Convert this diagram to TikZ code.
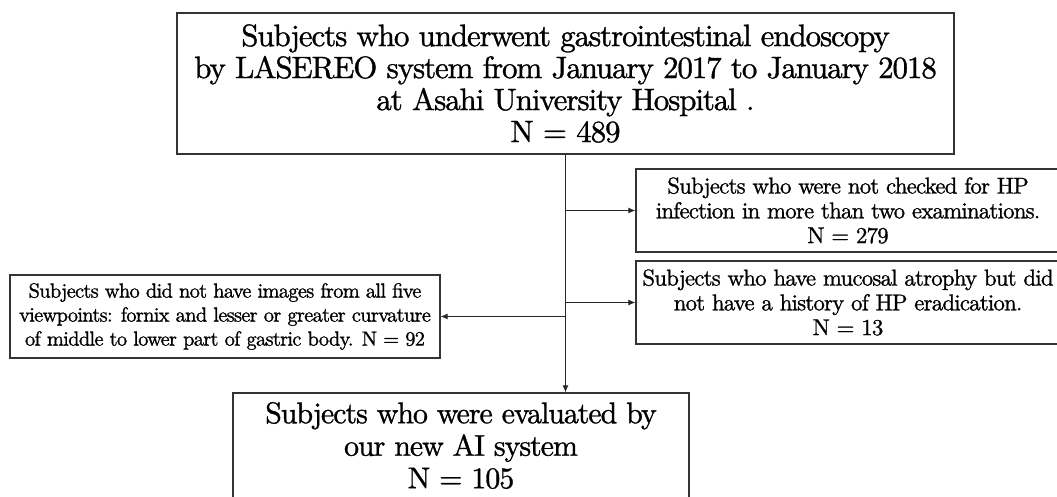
\documentclass[tikz,border=0pt]{standalone}
\usepackage{fontspec}
\setmainfont{lmroman10-regular.otf}[FakeBold=1.0, LetterSpace=-3.6]
\usetikzlibrary{arrows.meta}
\begin{document}
\begin{tikzpicture}[x=1pt,y=-1pt,
  box/.style={draw=black!80, line width=1.2pt, rectangle, inner sep=0pt, align=center, text=black},
  big/.style={font=\fontsize{31}{32}\selectfont},
  bigger/.style={font=\fontsize{30}{32.5}\selectfont},
  small/.style={font=\fontsize{22.9}{24.8}\selectfont},
  smallleft/.style={font=\fontsize{20.5}{24}\selectfont},
  conn/.style={draw=black!85, line width=1pt, -{Latex[length=7pt,width=6pt]}}
]
\useasboundingbox (0,0) rectangle (1057,497);
\node[box,big,minimum width=777pt,minimum height=141pt] (top) at (565.5,83.5)
  {Subjects who underwent gastrointestinal endoscopy\\
   by LASEREO system from January 2017 to January 2018\\
   at Asahi University Hospital .\\
   N = 489};
\node[box,small,minimum width=424pt,minimum height=83pt] (r1) at (848,210.5)
  {Subjects who were not checked for HP\\
   infection in more than two examinations.\\
   N = 279};
\node[box,small,minimum width=424pt,minimum height=83pt] (r2) at (848,302.5)
  {Subjects who have mucosal atrophy but did\\
   not have a history of HP eradication.\\
   N = 13};
\node[box,smallleft,minimum width=430pt,minimum height=83pt] (l1) at (225,316.5)
  {Subjects who did not have images from all five\\
   viewpoints: fornix and lesser or greater curvature\\
   of middle to lower part of gastric body. N = 92};
\node[box,bigger,minimum width=456pt,minimum height=105pt] (bot) at (461,445.5)
  {Subjects who were evaluated by\\
   our new AI system\\
   N = 105};
\draw[conn] (top.south) -- (top.south |- bot.north);
\draw[conn] (top.south |- r1.west) -- (r1.west);
\draw[conn] (top.south |- r2.west) -- (r2.west);
\draw[conn] (top.south |- l1.east) -- (l1.east);
\end{tikzpicture}
\end{document}
